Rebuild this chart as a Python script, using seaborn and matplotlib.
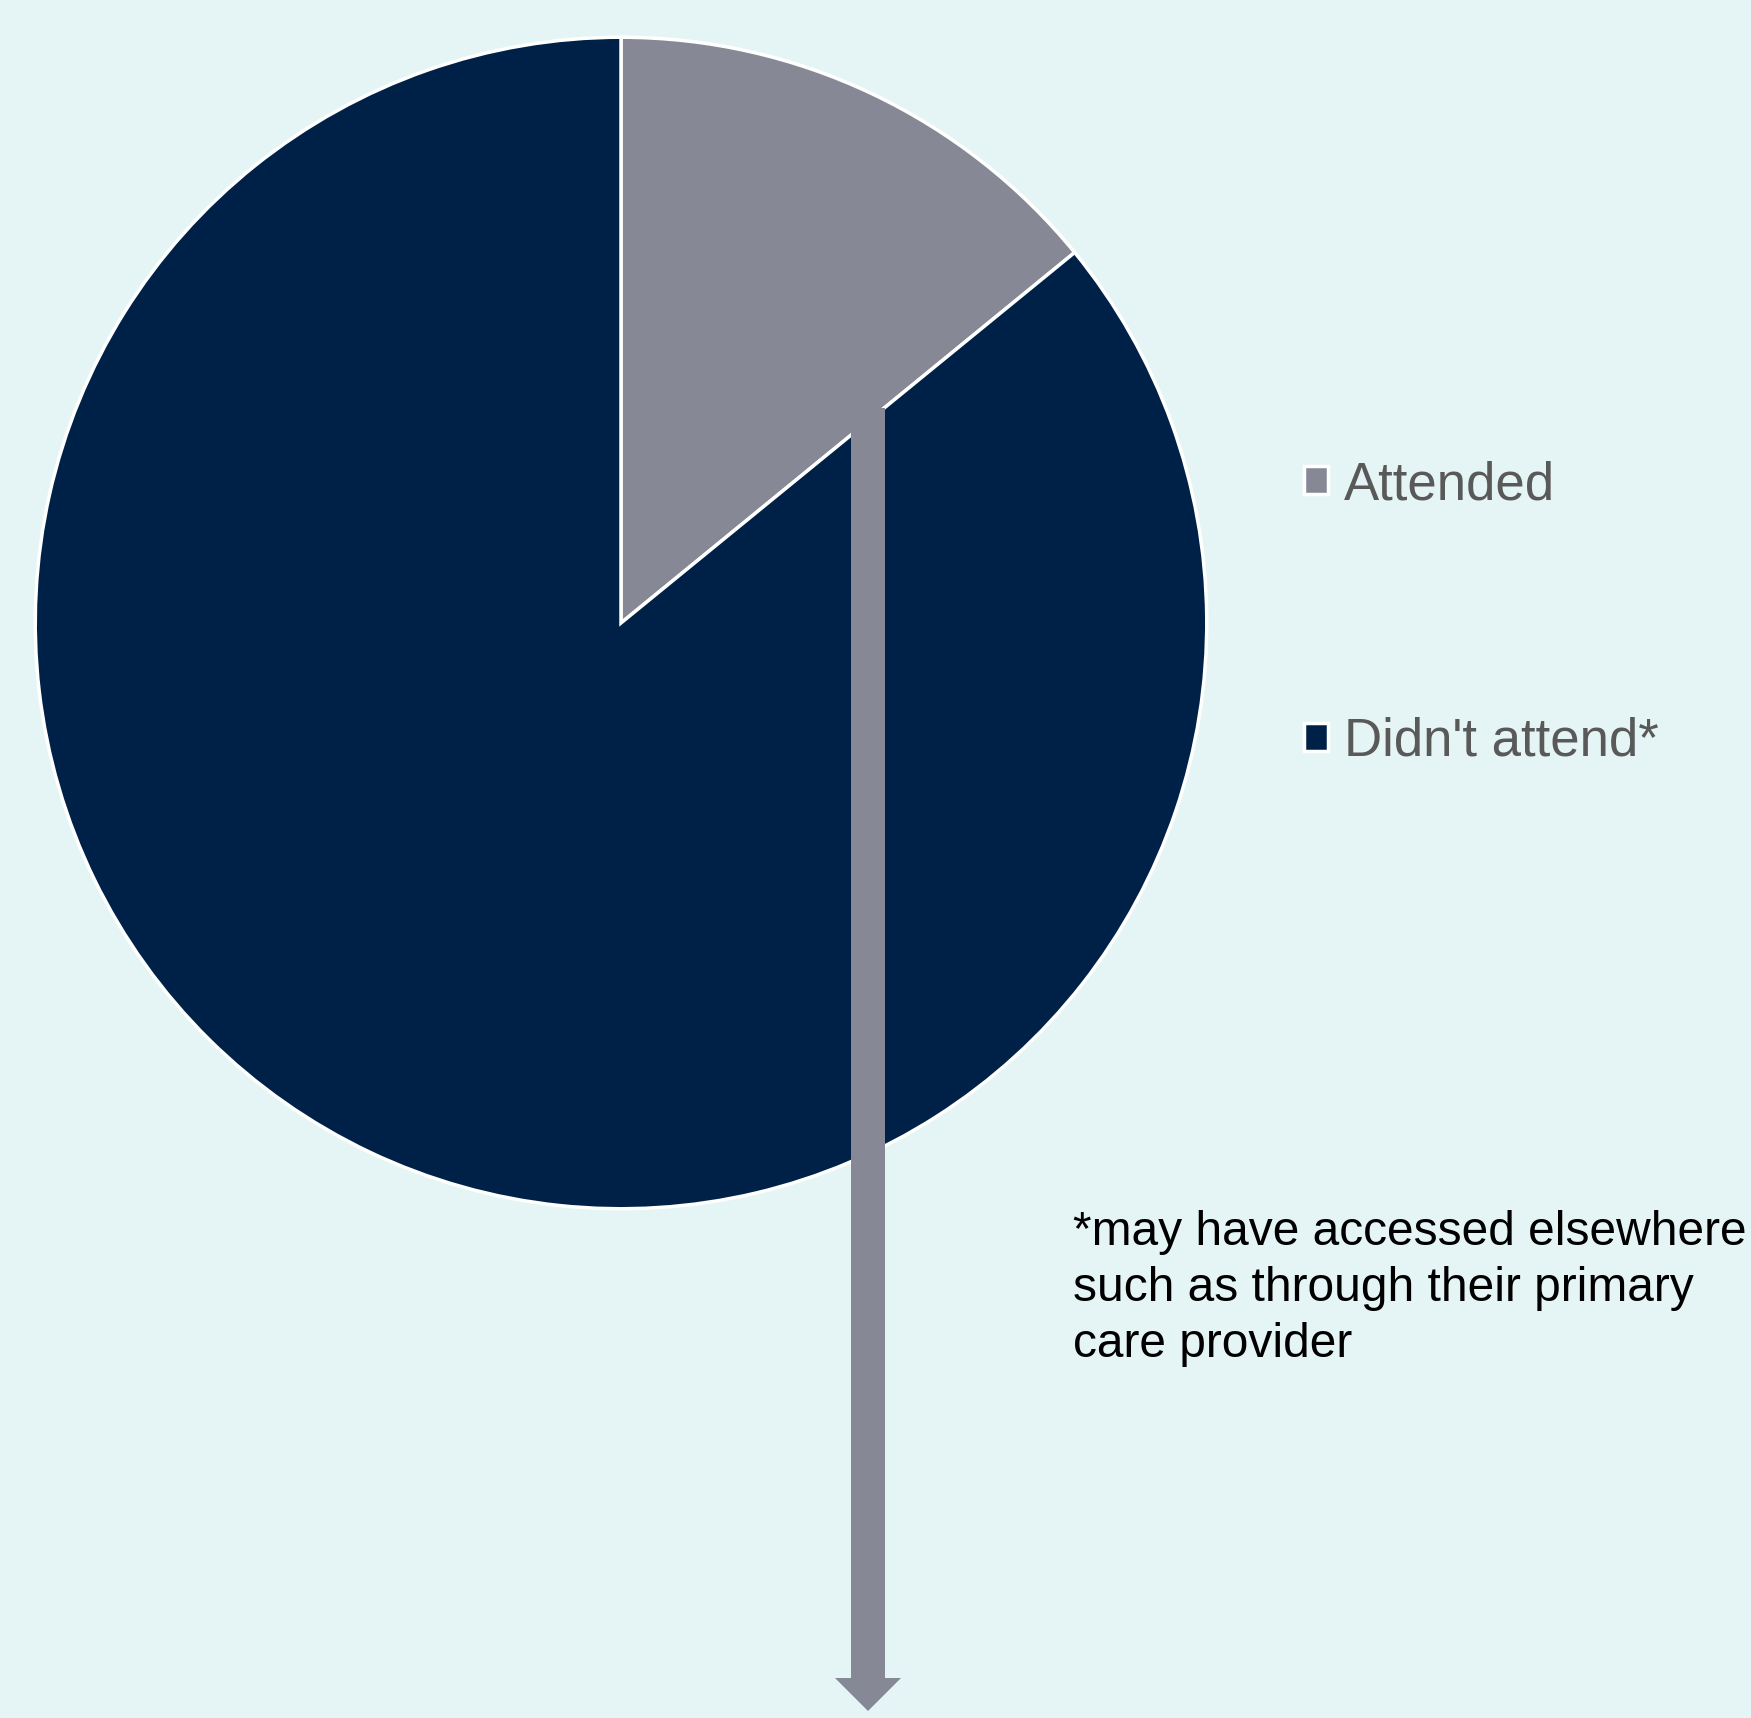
import matplotlib
matplotlib.use('Agg')
import matplotlib.pyplot as plt
import matplotlib.patches as mpatches
import seaborn as sns

# Data
labels = ['Attended', "Didn't attend*"]
shares = [14.1, 85.9]
colors = ['#868895', '#002147']
footnote = '*may have accessed elsewhere\nsuch as through their primary\ncare provider'

bg = '#E5F5F5'

sns.set_theme(style='white')
plt.rcParams['font.family'] = ['Liberation Sans', 'DejaVu Sans']

W, H = 1751, 1718
fig = plt.figure(figsize=(W / 100, H / 100), dpi=100, facecolor=bg)

# pie axes: centre (621, 623) px, radius 584 px
cx, cy, r = 621, 623, 584
ax = fig.add_axes([(cx - r) / W, (H - cy - r) / H, 2 * r / W, 2 * r / H])
ax.set_facecolor(bg)
wedges, _ = ax.pie(
    shares,
    colors=colors,
    startangle=90,
    counterclock=False,
    radius=1,
    wedgeprops={'edgecolor': 'white', 'linewidth': 2.5},
)
ax.set_xlim(-0.997, 0.997)
ax.set_ylim(-0.997, 0.997)
ax.axis('off')

# legend on the right
leg = fig.legend(
    wedges, labels,
    loc='upper left',
    bbox_to_anchor=(1304 / W, 1 - 460 / H),
    bbox_transform=fig.transFigure,
    frameon=False,
    fontsize=38,
    handlelength=0.45,
    handleheight=0.45,
    handletextpad=0.3,
    labelspacing=3.92,
    borderpad=0,
    borderaxespad=0,
)
for t in leg.get_texts():
    t.set_color('#595959')

# downward arrow over the pie
arrow = mpatches.FancyArrow(
    8.68, (H - 408) / 100, 0, -(1711 - 408) / 100,
    width=0.34, head_width=0.66, head_length=0.33,
    length_includes_head=True,
    color='#868895', linewidth=0,
    transform=fig.dpi_scale_trans,
)
fig.add_artist(arrow)

# footnote
fig.text(1073 / W, 1 - 1210 / H, footnote, ha='left', va='top',
         fontsize=34.5, color='black', linespacing=1.32)

fig.savefig('out.png', dpi=100, facecolor=bg)
